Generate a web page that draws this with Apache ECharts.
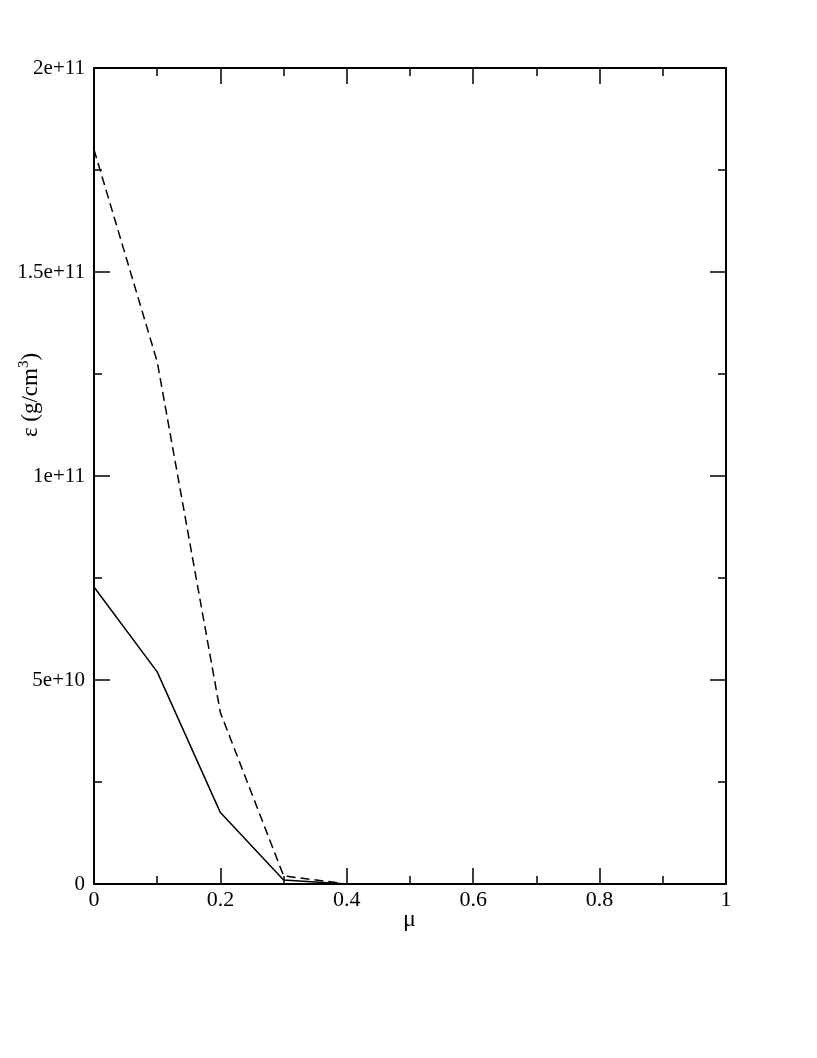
<!DOCTYPE html>
<html>
<head>
<meta charset="utf-8">
<script src="https://cdn.jsdelivr.net/npm/echarts@6/dist/echarts.min.js"></script>
<style>
html,body{margin:0;padding:0;background:#fff;}
#c{width:817px;height:1058px;}
</style>
</head>
<body>
<div id="c"></div>
<script>
const mu = [0, 0.1, 0.2, 0.3, 0.4];
const solidEps = [7.28e10, 5.2e10, 1.75e10, 1.0e9, 0];
const dashedEps = [1.8e11, 1.28e11, 4.2e10, 2.0e9, 0];
const yTickLabels = {0: '0', 5e10: '5e+10', 1e11: '1e+11', 1.5e11: '1.5e+11', 2e11: '2e+11'};
const xTitle = 'μ';
const yTitle = ['ε (g/cm', '3', ')'];

const FONT = '"Liberation Serif", "DejaVu Serif", serif';
const chart = echarts.init(document.getElementById('c'));
const axisBase = {
  axisLine: {show: true, onZero: false, lineStyle: {color: '#000', width: 2}},
  axisTick: {show: true, inside: true, length: 16, lineStyle: {color: '#000', width: 1.5}},
  minorTick: {show: true, splitNumber: 2, length: 8, lineStyle: {color: '#000', width: 1.5}},
  splitLine: {show: false},
  minorSplitLine: {show: false}
};
chart.setOption({
  animation: false,
  backgroundColor: '#fff',
  grid: {left: 94, right: 91, top: 68, bottom: 174, containLabel: false},
  xAxis: [
    Object.assign({}, axisBase, {
      type: 'value', min: 0, max: 1, interval: 0.2, position: 'bottom',
      axisLabel: {color: '#000', fontFamily: FONT, fontSize: 22, margin: 5,
        formatter: v => String(+v.toFixed(1))}
    }),
    Object.assign({}, axisBase, {
      type: 'value', min: 0, max: 1, interval: 0.2, position: 'top',
      axisLabel: {show: false}
    })
  ],
  yAxis: [
    Object.assign({}, axisBase, {
      type: 'value', min: 0, max: 2e11, interval: 5e10, position: 'left',
      axisLabel: {color: '#000', fontFamily: FONT, fontSize: 21, margin: 9,
        formatter: v => yTickLabels[v] !== undefined ? yTickLabels[v] : String(v)}
    }),
    Object.assign({}, axisBase, {
      type: 'value', min: 0, max: 2e11, interval: 5e10, position: 'right',
      axisLabel: {show: false}
    })
  ],
  graphic: [
    {type: 'text', left: 403, top: 908, style: {text: xTitle, font: '24px ' + FONT, fill: '#000'}},
    {type: 'text', x: 31, y: 395, rotation: Math.PI / 2,
      style: {
        text: '{a|' + yTitle[0] + '}{s|' + yTitle[1] + '}{a|' + yTitle[2] + '}',
        align: 'center', verticalAlign: 'middle',
        rich: {
          a: {fontFamily: FONT, fontSize: 23, fill: '#000', color: '#000'},
          s: {fontFamily: FONT, fontSize: 15, fill: '#000', color: '#000', verticalAlign: 'top', padding: [0, 0, 13, 0]}
        }
      }}
  ],
  series: [
    {type: 'line', data: mu.map((m, i) => [m, solidEps[i]]), showSymbol: false,
      lineStyle: {color: '#000', width: 1.5, type: 'solid'}, z: 5},
    {type: 'line', data: mu.map((m, i) => [m, dashedEps[i]]), showSymbol: false,
      lineStyle: {color: '#000', width: 1.5, type: [9, 5]}, z: 5}
  ]
});
</script>
</body>
</html>
